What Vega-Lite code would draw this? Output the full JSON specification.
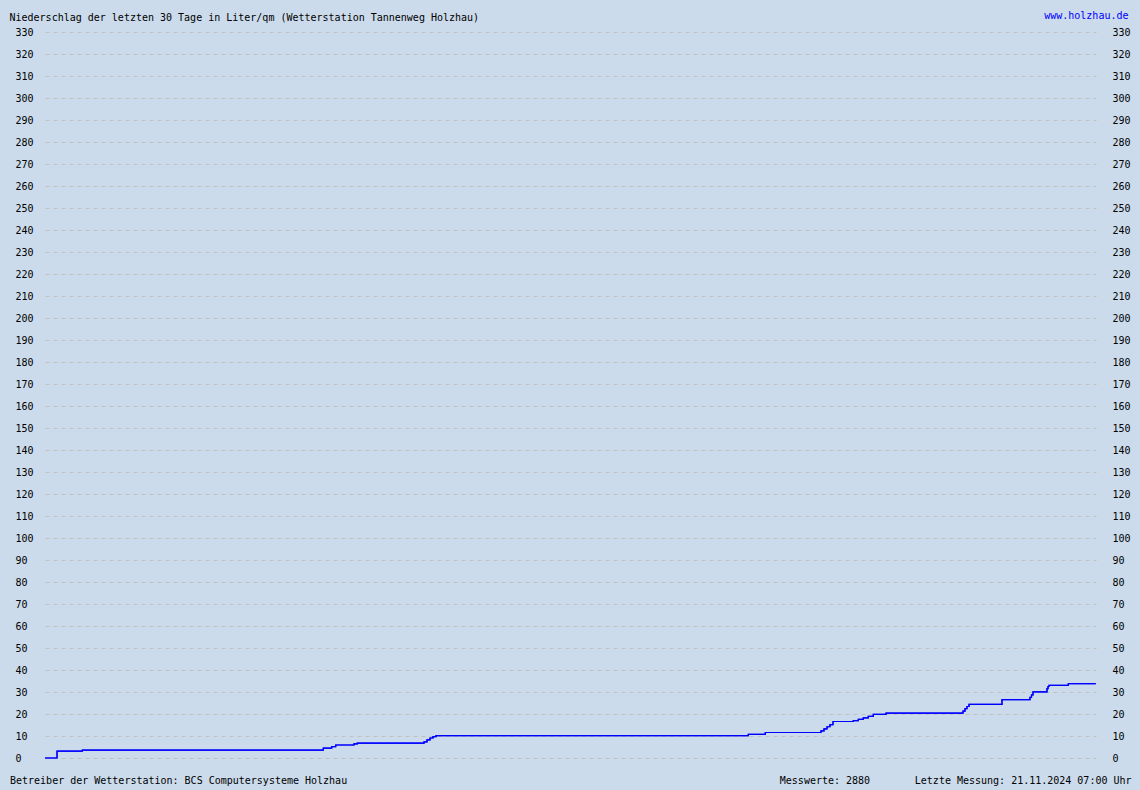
{
  "$schema": "https://vega.github.io/schema/vega-lite/v6.json",
  "width": 1051,
  "height": 726,
  "autosize": {"type": "none"},
  "padding": {"left": 45, "top": 32, "right": 44, "bottom": 32},
  "background": "#cbdbeb",
  "title": {
    "text": "Niederschlag der letzten 30 Tage in Liter/qm (Wetterstation Tannenweg Holzhau)",
    "anchor": "start",
    "frame": "group",
    "dx": -35.5,
    "dy": 16.5,
    "font": "DejaVu Sans Mono",
    "fontSize": 10,
    "fontWeight": "normal",
    "color": "#000000"
  },
  "data": {
    "values": [
      {"t": 0, "v": 0},
      {"t": 0.343, "v": 3.1},
      {"t": 1.065, "v": 3.6},
      {"t": 7.944, "v": 4.5},
      {"t": 8.183, "v": 5.2},
      {"t": 8.298, "v": 5.9},
      {"t": 8.82, "v": 6.4},
      {"t": 8.914, "v": 6.8},
      {"t": 10.819, "v": 7.3},
      {"t": 10.904, "v": 8.2},
      {"t": 10.99, "v": 9.1},
      {"t": 11.075, "v": 9.7},
      {"t": 11.161, "v": 10.2},
      {"t": 20.075, "v": 10.7},
      {"t": 20.56, "v": 11.6},
      {"t": 22.15, "v": 12.3},
      {"t": 22.236, "v": 13.2},
      {"t": 22.321, "v": 14.2},
      {"t": 22.407, "v": 15.2},
      {"t": 22.493, "v": 16.6},
      {"t": 23.072, "v": 17.0},
      {"t": 23.215, "v": 17.6},
      {"t": 23.357, "v": 18.2},
      {"t": 23.5, "v": 18.9},
      {"t": 23.643, "v": 19.8},
      {"t": 24.006, "v": 20.4},
      {"t": 26.204, "v": 21.3},
      {"t": 26.261, "v": 22.4},
      {"t": 26.318, "v": 23.4},
      {"t": 26.375, "v": 24.4},
      {"t": 27.317, "v": 26.5},
      {"t": 28.116, "v": 27.6},
      {"t": 28.159, "v": 28.7},
      {"t": 28.202, "v": 30.1},
      {"t": 28.601, "v": 31.5},
      {"t": 28.63, "v": 32.5},
      {"t": 28.659, "v": 33.0},
      {"t": 29.21, "v": 33.8},
      {"t": 29.992, "v": 33.8}
    ]
  },
  "layer": [
    {
      "mark": {"type": "line", "interpolate": "step-after", "color": "#0000ff", "strokeWidth": 1.2},
      "encoding": {
        "x": {
          "field": "t",
          "type": "quantitative",
          "scale": {"domain": [0, 30], "nice": false, "zero": false},
          "axis": {
            "orient": "bottom",
            "labels": false,
            "ticks": false,
            "domain": false,
            "grid": false,
            "title": "Betreiber der Wetterstation: BCS Computersysteme Holzhau",
            "titleX": -35.5,
            "titleY": 25,
            "titleAlign": "left",
            "titleAnchor": "start",
            "titleBaseline": "alphabetic"
          }
        },
        "y": {
          "field": "v",
          "type": "quantitative",
          "scale": {"domain": [0, 330], "nice": false},
          "axis": {
            "orient": "left",
            "values": [0, 10, 20, 30, 40, 50, 60, 70, 80, 90, 100, 110, 120, 130, 140, 150, 160, 170, 180, 190, 200, 210, 220, 230, 240, 250, 260, 270, 280, 290, 300, 310, 320, 330],
            "ticks": false,
            "domain": false,
            "grid": true,
            "gridDash": [4, 4],
            "gridColor": "#c2c2bc",
            "gridWidth": 1,
            "labelAlign": "left",
            "labelPadding": 30,
            "labelOverlap": false,
            "title": "Messwerte: 2880",
            "titleAngle": 0,
            "titleX": 734.3,
            "titleY": 751,
            "titleAlign": "left",
            "titleAnchor": "start",
            "titleBaseline": "alphabetic"
          }
        }
      }
    },
    {
      "mark": {"type": "line", "interpolate": "step-after", "color": "#0000ff", "strokeWidth": 1.2},
      "encoding": {
        "x": {
          "field": "t",
          "type": "quantitative",
          "scale": {"domain": [0, 30], "nice": false, "zero": false},
          "axis": {
            "orient": "top",
            "labels": false,
            "ticks": false,
            "domain": false,
            "grid": false,
            "title": "www.holzhau.de",
            "titleColor": "#0000ff",
            "titleX": 1083,
            "titleY": -14,
            "titleAlign": "right",
            "titleAnchor": "end",
            "titleBaseline": "alphabetic"
          }
        },
        "y": {
          "field": "v",
          "type": "quantitative",
          "scale": {"domain": [0, 330], "nice": false},
          "axis": {
            "orient": "right",
            "values": [0, 10, 20, 30, 40, 50, 60, 70, 80, 90, 100, 110, 120, 130, 140, 150, 160, 170, 180, 190, 200, 210, 220, 230, 240, 250, 260, 270, 280, 290, 300, 310, 320, 330],
            "ticks": false,
            "domain": false,
            "grid": false,
            "labelAlign": "left",
            "labelPadding": 16,
            "labelOverlap": false,
            "title": "Letzte Messung: 21.11.2024 07:00 Uhr",
            "titleAngle": 0,
            "titleX": -181.7,
            "titleY": 751,
            "titleAlign": "left",
            "titleAnchor": "start",
            "titleBaseline": "alphabetic"
          }
        }
      }
    }
  ],
  "resolve": {"scale": {"x": "independent", "y": "independent"}},
  "config": {
    "view": {"stroke": null},
    "font": "DejaVu Sans Mono",
    "axis": {
      "labelFont": "DejaVu Sans Mono",
      "titleFont": "DejaVu Sans Mono",
      "labelFontSize": 10,
      "titleFontSize": 10,
      "titleFontWeight": "normal",
      "labelColor": "#000000",
      "titleColor": "#000000"
    }
  }
}
